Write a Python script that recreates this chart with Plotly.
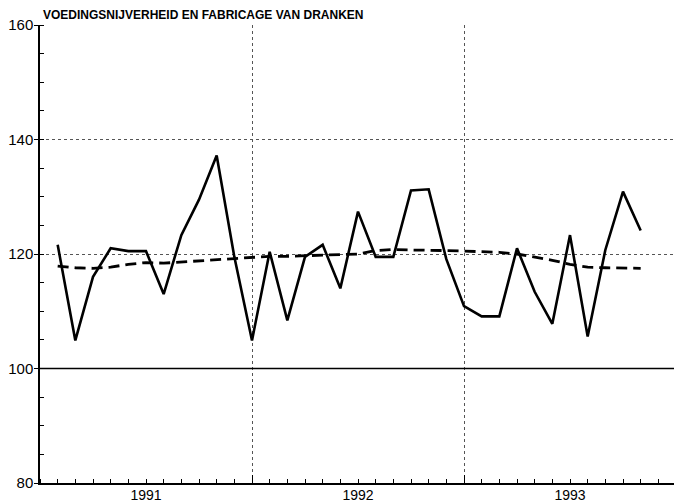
import plotly.graph_objects as go

title_text = "VOEDINGSNIJVERHEID EN FABRICAGE VAN DRANKEN"
years = ["1991", "1992", "1993"]

# monthly index, Jan 1991 = 1 (plotted at month end)
month_idx = list(range(1, 35))
index_values = [121.6, 104.9, 116.0, 121.0, 120.5, 120.5, 113.0, 123.3, 129.5, 137.2,
                119.5, 104.9, 120.4, 108.4, 119.5, 121.6, 114.0, 127.4, 119.5, 119.5,
                131.1, 131.3, 119.1, 110.9, 109.1, 109.1, 121.0, 113.4, 107.8, 123.3,
                105.6, 120.7, 130.9, 124.1]
trend_values = [117.9, 117.6, 117.5, 117.7, 118.2, 118.5, 118.4, 118.6, 118.8, 119.0,
                119.2, 119.4, 119.6, 119.6, 119.7, 119.7, 119.8, 120.0, 120.6, 120.8,
                120.7, 120.7, 120.6, 120.5, 120.4, 120.3, 120.0, 119.5, 118.9, 118.2,
                117.7, 117.6, 117.6, 117.5]
year_centers = [6, 18, 30]
year_bounds = [0, 12, 24, 36]

FONT = "Liberation Sans"

fig = go.Figure()
fig.add_trace(go.Scatter(x=month_idx, y=trend_values, mode="lines",
                         line=dict(color="black", width=2.8, dash="11px,6px"),
                         showlegend=False, hoverinfo="skip"))
fig.add_trace(go.Scatter(x=month_idx, y=index_values, mode="lines",
                         line=dict(color="black", width=2.6),
                         showlegend=False))
# invisible trace on the overlay axis for year boundaries
fig.add_trace(go.Scatter(x=year_bounds, y=[None]*4, xaxis="x2", mode="lines",
                         showlegend=False, hoverinfo="skip"))

fig.add_hline(y=100, line=dict(color="black", width=1.6), layer="above")

fig.add_annotation(text=title_text, xref="paper", yref="paper", x=0, y=1,
                   xanchor="left", yanchor="bottom", yshift=1, xshift=1,
                   showarrow=False,
                   font=dict(family=FONT, size=12, color="black", weight="bold"))

# page body has an 8px margin: figure is sized/offset to compensate
fig.update_layout(
    width=674, height=495,
    margin=dict(l=32, r=6, t=17, b=20, autoexpand=False),
    paper_bgcolor="white", plot_bgcolor="white",
    font=dict(family=FONT, color="black", size=15),
    xaxis=dict(range=[0, 36], tickvals=year_centers, ticktext=years,
               ticks="", showgrid=False, showline=True, linecolor="black",
               linewidth=1.5, mirror=False, zeroline=False, automargin=False,
               tickfont=dict(size=14), ticklabelstandoff=-2,
               minor=dict(dtick=1, tick0=0, ticks="inside", ticklen=4,
                          tickcolor="black", tickwidth=1, showgrid=False)),
    xaxis2=dict(range=[0, 36], overlaying="x", side="bottom", tickvals=year_bounds,
                showticklabels=False, ticks="inside", ticklen=8, tickcolor="black",
                showgrid=True, gridcolor="#555", griddash="dot", gridwidth=1,
                showline=False, zeroline=False, automargin=False),
    yaxis=dict(range=[80, 160], dtick=20, tick0=80, ticks="outside", ticklen=4,
               tickcolor="black", tickwidth=1.2, automargin=False,
               ticklabelstandoff=-2,
               showgrid=True, gridcolor="#555", griddash="dot", gridwidth=1,
               showline=True, linecolor="black", linewidth=1.5, zeroline=False,
               tickfont=dict(size=15),
               minor=dict(dtick=5, ticks="inside", ticklen=4, tickcolor="black",
                          showgrid=False)),
)

fig.write_html("out.html")
